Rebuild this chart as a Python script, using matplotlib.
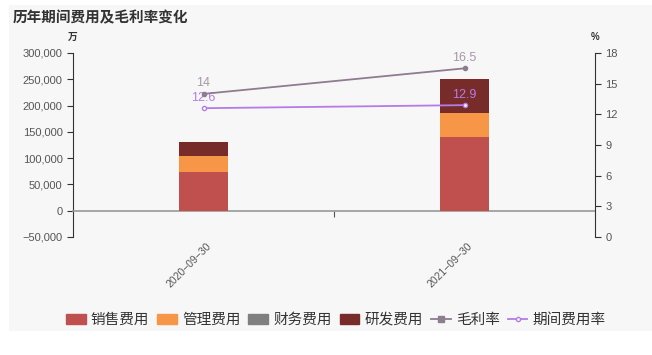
import matplotlib
matplotlib.use('Agg')
import matplotlib.pyplot as plt
import matplotlib.patches as mpatches
from matplotlib.lines import Line2D
from matplotlib.ticker import FuncFormatter
import numpy as np

plt.rcParams['font.family'] = ['Liberation Sans', 'Noto Sans CJK SC', 'DejaVu Sans']
plt.rcParams['axes.unicode_minus'] = False

# --- data ---
dates = ['2020-09-30', '2021-09-30']
sales_fee = [73600, 140700]
admin_fee = [30900, 44300]
finance_fee = [300, 400]
rd_fee = [25800, 65000]
gross_margin = [14, 16.5]
expense_ratio = [12.6, 12.9]

bar_names = ['销售费用', '管理费用', '财务费用', '研发费用']
bar_colors = ['#c0504d', '#f79646', '#7f7f7f', '#772c2a']
gm_color = '#8e7c8f'
er_color = '#b57be8'

fig = plt.figure(figsize=(6.52, 3.55), dpi=100)
fig.patch.set_facecolor('white')
bg = mpatches.Rectangle((9 / 652, 1 - 331 / 355), 643 / 652, 326 / 355,
                        transform=fig.transFigure, facecolor='#f7f7f7',
                        edgecolor='none', zorder=-10)
fig.patches.append(bg)

ax = fig.add_axes([73 / 652, 1 - 237 / 355, 522 / 652, 184 / 355])
ax.set_facecolor('none')
x = np.arange(len(dates))
bottom = np.zeros(len(dates))
for vals, name, col in zip([sales_fee, admin_fee, finance_fee, rd_fee], bar_names, bar_colors):
    ax.bar(x, vals, width=0.185, bottom=bottom, color=col, zorder=3)
    bottom += np.array(vals)

ax.set_xlim(-0.5, 1.5)
ax.set_ylim(-50000, 300000)
ax.set_yticks(np.arange(-50000, 300001, 50000))
ax.yaxis.set_major_formatter(FuncFormatter(lambda v, p: f'{int(v):,}'.replace('-', '−')))
ax.spines['bottom'].set_position(('data', 0))
ax.spines['bottom'].set_color('#999999')
ax.spines['bottom'].set_linewidth(1.2)
ax.set_xticks([0.5])
ax.set_xticklabels([''])
ax.tick_params(axis='x', length=4, color='#555555', direction='out')
for xi, d in zip(x, dates):
    ax.text(xi + 0.01, -58000, d.replace('-', '−'), rotation=45, ha='right', va='top',
            fontsize=7.5, color='#555555', rotation_mode='anchor')
ax.tick_params(axis='y', labelsize=8, labelcolor='#555555', color='#333333', length=4)
for s in ['top', 'right']:
    ax.spines[s].set_visible(False)
ax.spines['left'].set_color('#333333')

ax2 = ax.twinx()
ax2.set_ylim(0, 18)
ax2.set_yticks(np.arange(0, 19, 3))
ax2.tick_params(axis='y', labelsize=8, labelcolor='#555555', color='#333333', length=4)
for s in ['top', 'left', 'bottom']:
    ax2.spines[s].set_visible(False)
ax2.spines['right'].set_color('#333333')
ax2.plot(x, gross_margin, color=gm_color, lw=1.3, marker='o', ms=3, zorder=5)
ax2.plot(x, expense_ratio, color=er_color, lw=1.3, marker='o', ms=3,
         mfc='white', mec=er_color, zorder=5)
for xi, v in zip(x, gross_margin):
    ax2.text(xi, v + 0.45, f'{v:g}', ha='center', va='bottom', fontsize=9, color='#a898a8')
for xi, v in zip(x, expense_ratio):
    ax2.text(xi, v + 0.45, f'{v:g}', ha='center', va='bottom', fontsize=9, color='#b57be8')

fig.text(13 / 652, 1 - 18 / 355, '历年期间费用及毛利率变化', fontsize=10.5, fontweight='bold',
         color='#333333', va='center', ha='left')
fig.text(73 / 652, 1 - 37 / 355, '万', fontsize=7, fontweight='bold', color='#333333',
         ha='center', va='center')
fig.text(595 / 652, 1 - 37 / 355, '%', fontsize=7, fontweight='bold', color='#333333',
         ha='center', va='center')

handles = [mpatches.FancyBboxPatch((0, 0), 1, 1, boxstyle='round,pad=0.1', color=c)
           for c in bar_colors]
handles += [Line2D([0], [0], color=gm_color, lw=1.3, marker='s', ms=4),
            Line2D([0], [0], color=er_color, lw=1.3, marker='o', ms=3, mfc='white')]
labels = bar_names + ['毛利率', '期间费用率']
fig.legend(handles, labels, loc='center', bbox_to_anchor=(0.515, 1 - 320 / 355), ncol=6,
           frameon=False, fontsize=10.5, handlelength=1.35, handleheight=0.7,
           handletextpad=0.35, columnspacing=0.55, labelcolor='#333333')

fig.savefig('out.png', dpi=100)
